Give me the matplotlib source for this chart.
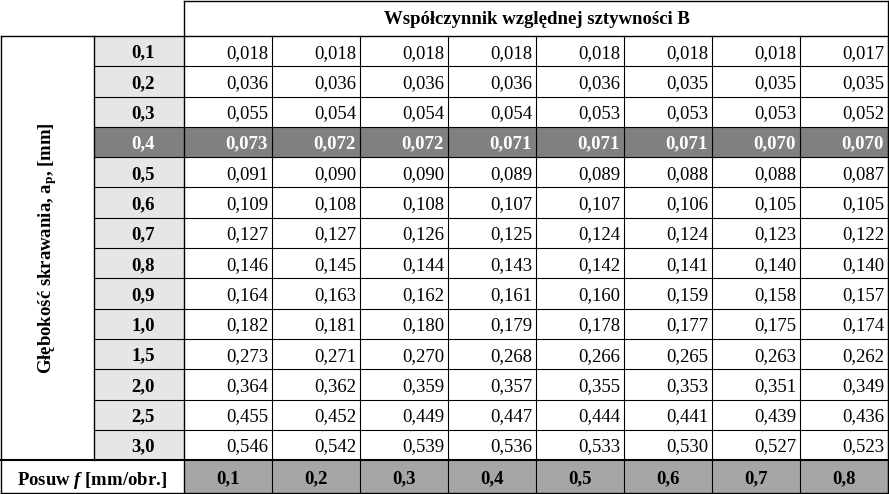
import matplotlib.pyplot as plt
from matplotlib.patches import Rectangle

plt.rcParams['font.family'] = ['Liberation Serif', 'DejaVu Serif']
plt.rcParams['mathtext.fontset'] = 'custom'
plt.rcParams['mathtext.rm'] = 'Liberation Serif:bold'
plt.rcParams['mathtext.it'] = 'Liberation Serif:italic:bold'
plt.rcParams['mathtext.bf'] = 'Liberation Serif:bold'

depths = ["0,1", "0,2", "0,3", "0,4", "0,5", "0,6", "0,7", "0,8", "0,9", "1,0", "1,5", "2,0", "2,5", "3,0"]
feeds = ["0,1", "0,2", "0,3", "0,4", "0,5", "0,6", "0,7", "0,8"]
values = [
    [0.018, 0.018, 0.018, 0.018, 0.018, 0.018, 0.018, 0.017],
    [0.036, 0.036, 0.036, 0.036, 0.036, 0.035, 0.035, 0.035],
    [0.055, 0.054, 0.054, 0.054, 0.053, 0.053, 0.053, 0.052],
    [0.073, 0.072, 0.072, 0.071, 0.071, 0.071, 0.070, 0.070],
    [0.091, 0.090, 0.090, 0.089, 0.089, 0.088, 0.088, 0.087],
    [0.109, 0.108, 0.108, 0.107, 0.107, 0.106, 0.105, 0.105],
    [0.127, 0.127, 0.126, 0.125, 0.124, 0.124, 0.123, 0.122],
    [0.146, 0.145, 0.144, 0.143, 0.142, 0.141, 0.140, 0.140],
    [0.164, 0.163, 0.162, 0.161, 0.160, 0.159, 0.158, 0.157],
    [0.182, 0.181, 0.180, 0.179, 0.178, 0.177, 0.175, 0.174],
    [0.273, 0.271, 0.270, 0.268, 0.266, 0.265, 0.263, 0.262],
    [0.364, 0.362, 0.359, 0.357, 0.355, 0.353, 0.351, 0.349],
    [0.455, 0.452, 0.449, 0.447, 0.444, 0.441, 0.439, 0.436],
    [0.546, 0.542, 0.539, 0.536, 0.533, 0.530, 0.527, 0.523],
]
highlight = 3

W, H = 889, 494
fig = plt.figure(figsize=(W / 100, H / 100), dpi=100)
ax = fig.add_axes([0, 0, 1, 1])
ax.set_xlim(0, W)
ax.set_ylim(H, 0)
ax.axis('off')

x0, x1, x2 = 1, 94, 184
cw = (W - 1 - x2) / 8
y_head = 36
rh = 30.3
y_foot = y_head + rh * len(depths)
fs = 13.5

def rect(x, y, w, h, fc):
    ax.add_patch(Rectangle((x, y), w, h, facecolor=fc, edgecolor='none'))

# backgrounds
for i in range(len(depths)):
    y = y_head + i * rh
    rect(x1, y, x2 - x1, rh, '#e6e6e6')
rect(x1, y_head + highlight * rh, W - x1, rh, '#808080')
rect(x2, y_foot, W - x2, H - y_foot, '#a6a6a6')

# grid lines
lw = 1.0
ax.plot([x2, W - 1], [1, 1], color='black', lw=lw)
ax.plot([x0, W - 1], [y_head, y_head], color='black', lw=lw)
for i in range(1, len(depths)):
    y = y_head + i * rh
    ax.plot([x1, W - 1], [y, y], color='black', lw=0.8)
ax.plot([x0, W - 1], [y_foot, y_foot], color='black', lw=1.5)
ax.plot([x0, W - 1], [H - 1, H - 1], color='black', lw=lw)
ax.plot([x0, x0], [y_head, H - 1], color='black', lw=lw)
ax.plot([x1, x1], [y_head, y_foot], color='black', lw=lw)
ax.plot([x2, x2], [1, H - 1], color='black', lw=lw)
for j in range(1, 9):
    x = x2 + j * cw
    ax.plot([x, x], [y_head, H - 1], color='black', lw=0.8)
ax.plot([W - 1, W - 1], [1, H - 1], color='black', lw=lw)

ax.text((x2 + W) / 2, y_head / 2, "Współczynnik względnej sztywności B", ha='center', va='center_baseline',
        fontsize=fs, fontweight='bold')
ax.text((x0 + x1) / 2, (y_head + y_foot) / 2, "Głębokość skrawania, a$_\\mathregular{p}$, [mm]",
        ha='center', va='center', rotation=90, fontsize=fs, fontweight='bold')
ax.text((x0 + x2) / 2, (y_foot + H) / 2, "Posuw $\\it{f}$ [mm/obr.]", ha='center', va='center_baseline',
        fontsize=fs, fontweight='bold')

for i, d in enumerate(depths):
    yc = y_head + (i + 0.5) * rh
    hl = i == highlight
    ax.text((x1 + x2) / 2 + 4, yc, d, ha='center', va='center_baseline', fontsize=fs, fontweight='bold',
            color='white' if hl else 'black')
    for j, v in enumerate(values[i]):
        ax.text(x2 + (j + 1) * cw - 4, yc, f"{v:.3f}".replace('.', ','), ha='right', va='center_baseline',
                fontsize=fs, fontweight='bold' if hl else 'normal', color='white' if hl else 'black')

for j, f in enumerate(feeds):
    ax.text(x2 + (j + 0.5) * cw, (y_foot + H) / 2, f, ha='center', va='center_baseline',
            fontsize=fs, fontweight='bold')

fig.savefig('out.png', dpi=100)
